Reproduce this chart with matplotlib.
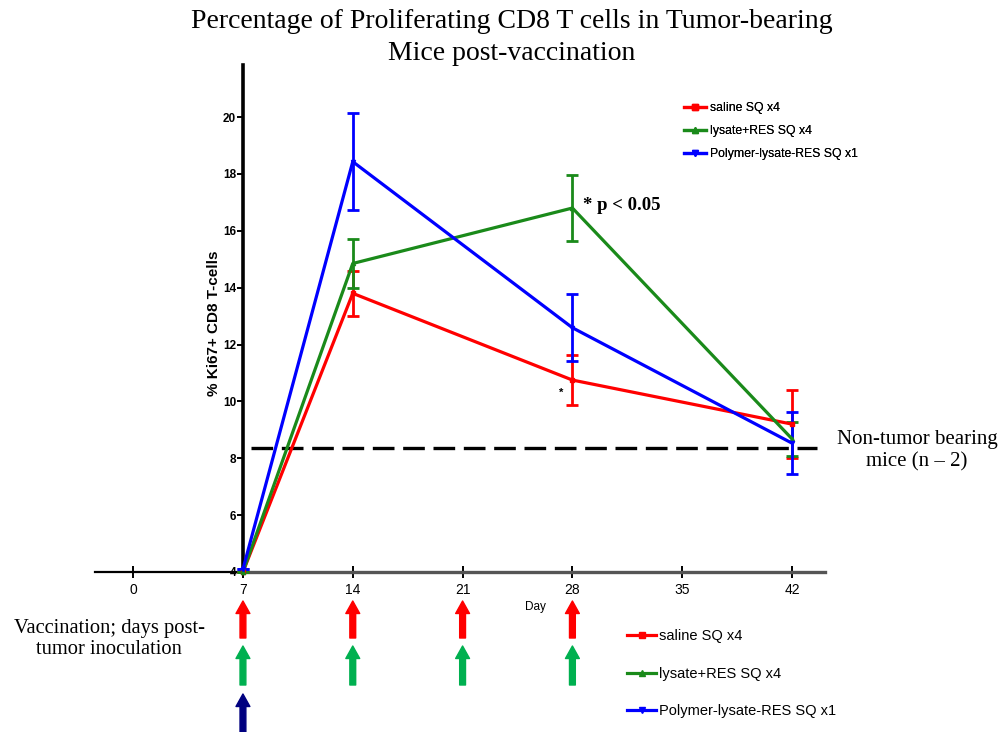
"""Ki67+ CD8 T cell proliferation after vaccination, redrawn."""
import matplotlib
matplotlib.use("Agg")
import matplotlib.pyplot as plt
from matplotlib.lines import Line2D

# Data
days = [7, 14, 28, 42]
saline = [4.0, 13.8, 10.75, 9.2]
saline_err = [0, 0.8, 0.87, 1.2]
lysate = [4.0, 14.85, 16.8, 8.68]
lysate_err = [0, 0.85, 1.15, 0.6]
polymer = [4.1, 18.43, 12.59, 8.53]
polymer_err = [0, 1.7, 1.17, 1.1]
baseline = 8.35  # non-tumor bearing mice

x_ticks = [0, 7, 14, 21, 28, 35, 42]
y_ticks = [4, 6, 8, 10, 12, 14, 16, 18, 20]

series_labels = ["saline SQ x4", "lysate+RES SQ x4", "Polymer-lysate-RES SQ x1"]
series_colors = ["#ff0000", "#1a8a1a", "#0000ff"]
series_markers = ["s", "^", "v"]

# vaccination schedule shown as arrows under the axis
vacc_saline = [7, 14, 21, 28]
vacc_lysate = [7, 14, 21, 28]
vacc_polymer = [7]
arrow_colors = ["#ff0000", "#00b050", "#000080"]

sans = ["Liberation Sans Narrow", "Liberation Sans", "DejaVu Sans"]
serif = ["Liberation Serif", "DejaVu Serif"]

W, H = 1000, 732
fig = plt.figure(figsize=(10, 7.32), dpi=100)
ax = fig.add_axes([95 / W, 1 - 572 / H, 730 / W, 507 / H])

ax.hlines(baseline, 7.5, 43.6, colors="black", linewidth=2.4,
          linestyles=(0, (6.5, 2.6)), zorder=1)

handles = []
for vals, errs, col, mk, lab in zip(
        [saline, lysate, polymer], [saline_err, lysate_err, polymer_err],
        series_colors, series_markers, series_labels):
    ax.errorbar(days, vals, yerr=errs, color=col, linewidth=2.3,
                elinewidth=2.0, capsize=4.5, capthick=2.0,
                marker=mk, markersize=3, clip_on=False, zorder=3)
    handles.append(Line2D([], [], color=col, linewidth=2.3, marker=mk,
                          markersize=5))

ax.set_xlim(-2.43, 44.1)
ax.set_ylim(4, 21.83)

ax.spines["top"].set_visible(False)
ax.spines["right"].set_visible(False)
ax.spines["left"].set_position(("data", 7))
ax.spines["left"].set_linewidth(2.6)
ax.spines["bottom"].set_bounds(7, 44.1)
ax.spines["bottom"].set_color("#555555")
ax.spines["bottom"].set_linewidth(2.4)
# thin black part of the axis left of day 7
ax.plot([-2.43, 7], [4, 4], color="black", linewidth=1.6, clip_on=False,
        zorder=0)

ax.set_xticks(x_ticks)
ax.set_yticks(y_ticks)
ax.tick_params(axis="x", direction="inout", length=8, width=1.4,
               labelsize=10, pad=4)
ax.tick_params(axis="y", direction="out", length=4, width=1.4,
               labelsize=8.5, pad=1)
for t in ax.get_xticklabels():
    t.set_family(sans)
for t in ax.get_yticklabels():
    t.set_family(sans)
    t.set_fontweight("bold")

ax.set_ylabel("% Ki67+ CD8 T-cells", family=sans, fontweight="bold",
              fontsize=11)
ax.yaxis.set_label_coords(0.172, 0.49)
fig.text(535 / W, 1 - 607 / H, "Day", family=sans, fontsize=8.5,
         ha="center", va="center")

fig.text(512 / W, 1 - 22 / H, "Percentage of Proliferating CD8 T cells in Tumor-bearing",
         family=serif, fontsize=20, ha="center", va="center")
fig.text(512 / W, 1 - 54 / H, "Mice post-vaccination",
         family=serif, fontsize=20, ha="center", va="center")

fig.text(583 / W, 1 - 205 / H, "* p < 0.05", family=serif,
         fontweight="bold", fontsize=13.5, ha="left", va="center")
fig.text(561 / W, 1 - 393 / H, "*", family=sans, fontsize=8,
         fontweight="bold", ha="center", va="center")
fig.text(917 / W, 1 - 451 / H, "Non-tumor bearing\nmice (n \u2013 2)",
         family=serif, fontsize=15, ha="center", va="center",
         linespacing=1.2)
fig.text(109 / W, 1 - 639 / H, "Vaccination; days post-\ntumor inoculation",
         family=serif, fontsize=14.8, ha="center", va="center",
         linespacing=1.2)

leg_top = fig.legend(handles, series_labels, loc="upper left",
                     bbox_to_anchor=(678 / W, 1 - 96 / H), frameon=False,
                     borderpad=0, handlelength=1.8, handletextpad=0.3,
                     labelspacing=0.9,
                     prop={"family": sans, "size": 8.8})
fig.legend(handles, series_labels, loc="upper left",
           bbox_to_anchor=(620 / W, 1 - 622 / H), frameon=False,
           borderpad=0, handlelength=2.0, handletextpad=0.2,
           labelspacing=1.6, prop={"family": sans, "size": 10.5})
fig.add_artist(leg_top)

# arrows: (days, colour, tip y px, tail y px)
for arrow_days, col, tip, tail in zip(
        [vacc_saline, vacc_lysate, vacc_polymer], arrow_colors,
        [601, 646, 694], [638, 685, 732]):
    for d in arrow_days:
        ax.annotate("", xy=(d, 1 - tip / H), xytext=(d, 1 - tail / H),
                    xycoords=("data", "figure fraction"),
                    textcoords=("data", "figure fraction"),
                    arrowprops=dict(facecolor=col, edgecolor=col, width=4.2,
                                    headwidth=10, headlength=9, shrink=0),
                    annotation_clip=False)

fig.savefig("out.png", dpi=100)
